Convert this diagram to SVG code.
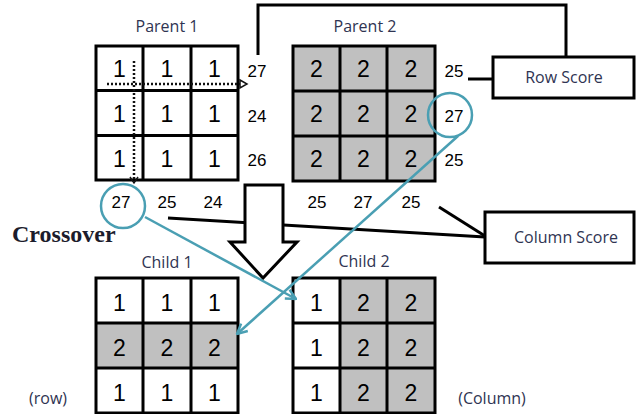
<svg xmlns="http://www.w3.org/2000/svg" width="637" height="414" viewBox="0 0 637 414">
<style>
.g{fill:none;stroke:#000;stroke-width:3}
.cell{font-family:"Liberation Sans",Arial,sans-serif;font-size:23px;text-anchor:middle;fill:#000}
.sc{font-family:"Liberation Sans",Arial,sans-serif;font-size:17px;text-anchor:middle;fill:#000}
.lbl{font-family:"Open Sans","Noto Sans",sans-serif;font-size:16px;text-anchor:middle;fill:#2f3452}
.ln{fill:none;stroke:#000;stroke-width:3}
.dot{fill:none;stroke:#111;stroke-width:2.5;stroke-dasharray:2 2}
.teal{fill:none;stroke:#4a9fb3;stroke-width:2.5}
.gray{fill:#c0c0c0}
</style>
<defs>
<marker id="tv" viewBox="0 0 12 12" refX="11" refY="6" markerWidth="12" markerHeight="12" markerUnits="userSpaceOnUse" orient="auto">
<path d="M1,1 L11,6 L1,11" fill="none" stroke="#4a9fb3" stroke-width="2.5"/>
</marker>
</defs>

<g id="connectors">
<polyline class="ln" points="258,55 258,5 566,5 566,57"/>
<line class="ln" x1="468" y1="79" x2="493" y2="79"/>
<line class="ln" x1="439" y1="207" x2="485" y2="236"/>
<line class="ln" x1="168" y1="218" x2="485" y2="237"/>
</g>

<g id="parent1">
<text class="lbl" x="167" y="32">Parent 1</text>
<rect x="96" y="46" width="142" height="134" fill="#fff"/>
<path class="g" d="M96,46H238V180H96Z M143,46V180 M191,46V180 M96,90.5H238 M96,135.5H238"/>
<g class="cell">
<text x="119.5" y="77">1</text><text x="167" y="77">1</text><text x="214.5" y="77">1</text>
<text x="119.5" y="122">1</text><text x="167" y="122">1</text><text x="214.5" y="122">1</text>
<text x="119.5" y="167">1</text><text x="167" y="167">1</text><text x="214.5" y="167">1</text>
</g>
<g class="sc">
<text x="257" y="77">27</text><text x="257" y="122">24</text><text x="257" y="166">26</text>
<text x="121" y="208">27</text><text x="167" y="208">25</text><text x="213" y="208">24</text>
</g>
<line class="dot" x1="107" y1="84" x2="240" y2="84"/>
<path d="M240,80 L247,84 L240,88 Z" fill="#fff" stroke="#111" stroke-width="1.5"/>
<line class="dot" x1="134" y1="61" x2="134" y2="181"/>
<path d="M130,177 L134,183 L138,177" fill="none" stroke="#111" stroke-width="1.5"/>
</g>

<g id="parent2">
<text class="lbl" x="365" y="32">Parent 2</text>
<rect class="gray" x="293" y="46" width="142" height="135"/>
<path class="g" d="M293,46H435V181H293Z M340,46V181 M387,46V181 M293,91H435 M293,136H435"/>
<g class="cell">
<text x="316.5" y="77">2</text><text x="363.5" y="77">2</text><text x="411" y="77">2</text>
<text x="316.5" y="122">2</text><text x="363.5" y="122">2</text><text x="411" y="122">2</text>
<text x="316.5" y="167">2</text><text x="363.5" y="167">2</text><text x="411" y="167">2</text>
</g>
<g class="sc">
<text x="454" y="77">25</text><text x="454" y="122">27</text><text x="454" y="166">25</text>
<text x="317" y="208">25</text><text x="363" y="208">27</text><text x="411" y="208">25</text>
</g>
</g>

<g id="row-score">
<rect class="ln" x="493" y="57" width="141" height="41" fill="#fff"/>
<text class="lbl" x="564" y="83">Row Score</text>
</g>

<g id="column-score">
<rect class="ln" x="485" y="212" width="149" height="51" fill="#fff"/>
<text class="lbl" x="566" y="243">Column Score</text>
</g>

<g id="crossover-arrow">
<polygon points="245,185 283,185 283,242 297,242 263,278 230,242 245,242" fill="#fff" stroke="#000" stroke-width="3" stroke-linejoin="miter"/>
</g>

<g id="crossover-label">
<text x="12" y="242" font-family="'Liberation Serif','Times New Roman',serif" font-size="24" font-weight="bold" fill="#1c1c2c">Crossover</text>
</g>

<g id="child1">
<text class="lbl" x="167" y="268">Child 1</text>
<rect x="96" y="278" width="142" height="135" fill="#fff"/>
<rect class="gray" x="96" y="323" width="142" height="45"/>
<path class="g" d="M96,278H238V413H96Z M143,278V413 M191,278V413 M96,323H238 M96,368H238"/>
<g class="cell">
<text x="119.5" y="311">1</text><text x="167" y="311">1</text><text x="214.5" y="311">1</text>
<text x="119.5" y="356">2</text><text x="167" y="356">2</text><text x="214.5" y="356">2</text>
<text x="119.5" y="401">1</text><text x="167" y="401">1</text><text x="214.5" y="401">1</text>
</g>
<text class="lbl" x="48" y="404">(row)</text>
</g>

<g id="child2">
<text class="lbl" x="364" y="267">Child 2</text>
<rect x="293" y="278" width="142" height="135" fill="#fff"/>
<rect class="gray" x="340" y="278" width="95" height="135"/>
<path class="g" d="M293,278H435V413H293Z M340,278V413 M387,278V413 M293,323H435 M293,368H435"/>
<g class="cell">
<text x="316.5" y="311">1</text><text x="363.5" y="311">2</text><text x="411" y="311">2</text>
<text x="316.5" y="356">1</text><text x="363.5" y="356">2</text><text x="411" y="356">2</text>
<text x="316.5" y="401">1</text><text x="363.5" y="401">2</text><text x="411" y="401">2</text>
</g>
<text class="lbl" x="492" y="404">(Column)</text>
</g>

<g id="highlights">
<circle class="teal" cx="123" cy="206" r="22"/>
<circle class="teal" cx="450" cy="115" r="22"/>
<line class="teal" x1="145" y1="217" x2="296" y2="299" marker-end="url(#tv)"/>
<line class="teal" x1="458" y1="136" x2="237" y2="334" marker-end="url(#tv)"/>
</g>
</svg>
